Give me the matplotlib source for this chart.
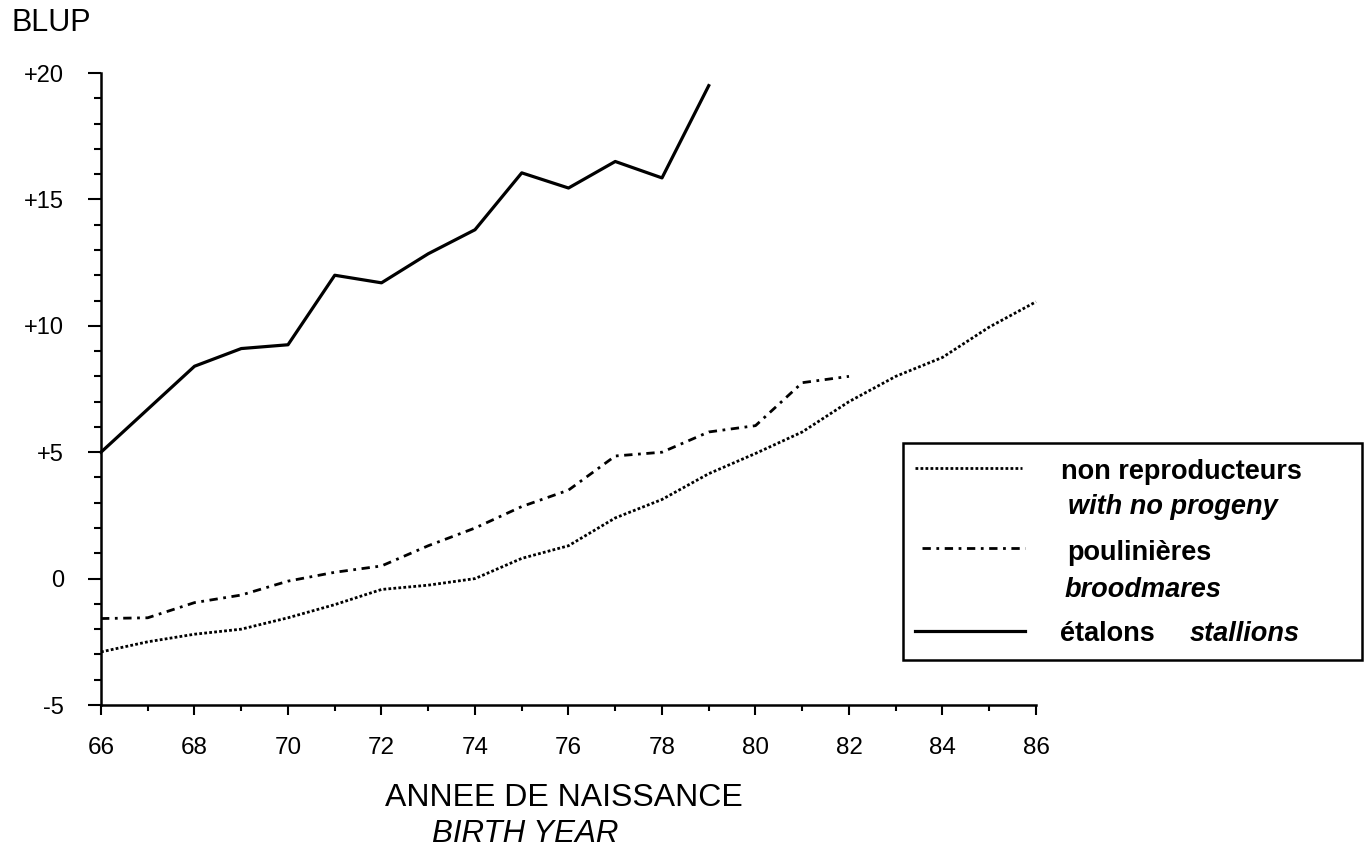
import matplotlib
matplotlib.use("Agg")
import matplotlib.pyplot as plt
from matplotlib.lines import Line2D
from matplotlib.patches import Rectangle
from matplotlib.ticker import MultipleLocator

plt.rcParams['font.family'] = ['Liberation Sans', 'DejaVu Sans']

# values (BLUP by birth year)
years_stallions = list(range(66, 80))
stallions = [5.0, 6.7, 8.4, 9.1, 9.25, 12.0, 11.7, 12.85, 13.8, 16.05, 15.45, 16.5, 15.85, 19.5]

years_mares = list(range(66, 83))
broodmares = [-1.58, -1.55, -0.95, -0.65, -0.1, 0.25, 0.5, 1.3, 2.0, 2.85, 3.5,
              4.85, 5.0, 5.8, 6.05, 7.75, 8.0]

years_nonrep = list(range(66, 87))
non_rep = [-2.9, -2.5, -2.2, -2.0, -1.55, -1.03, -0.43, -0.26, 0.0, 0.8, 1.3,
           2.4, 3.13, 4.15, 4.95, 5.8, 7.0, 8.0, 8.75, 9.95, 10.95]

x_ticks = list(range(66, 87, 2))
x_ticklabels = [str(v) for v in x_ticks]
y_ticks = [-5, 0, 5, 10, 15, 20]
y_ticklabels = ['-5', '0', '+5', '+10', '+15', '+20']

W, H = 1372, 857
fig = plt.figure(figsize=(W / 100, H / 100), dpi=100)
ax = fig.add_axes([101 / W, 1 - 705 / H, (1036 - 101) / W, (705 - 73) / H])

def px(x, y):
    # pixel position -> figure fraction
    return x / W, 1 - y / H

dotted = (0, (1, 0.8))
dashdot = (0, (3, 2, 1, 2))

ax.plot(years_nonrep, non_rep, color='black', lw=2.0, linestyle=dotted, clip_on=False)
ax.plot(years_mares, broodmares, color='black', lw=2.0, linestyle=dashdot, clip_on=False)
ax.plot(years_stallions, stallions, color='black', lw=2.3, clip_on=False)

ax.set_xlim(66, 86)
ax.set_ylim(-5, 20)
for s in ['top', 'right']:
    ax.spines[s].set_visible(False)
for s in ['left', 'bottom']:
    ax.spines[s].set_linewidth(1.8)

ax.set_xticks(x_ticks)
ax.set_xticklabels(x_ticklabels)
ax.set_yticks(y_ticks)
ax.set_yticklabels(y_ticklabels)
ax.xaxis.set_minor_locator(MultipleLocator(1))
ax.yaxis.set_minor_locator(MultipleLocator(1))
ax.tick_params(axis='x', which='major', length=7, width=1.5, pad=16, labelsize=17.5)
ax.tick_params(axis='x', which='minor', length=4, width=1.5)
ax.tick_params(axis='y', which='major', length=9.5, width=1.5, pad=17, labelsize=17)
ax.tick_params(axis='y', which='minor', length=5, width=1.5)

fig.text(*px(12, 23), 'BLUP', fontsize=22, ha='left', va='center')
fig.text(*px(564, 798), 'ANNEE DE NAISSANCE', fontsize=23, ha='center', va='center')
fig.text(*px(525, 834), 'BIRTH YEAR', fontsize=22.5, style='italic', ha='center', va='center')

# legend box drawn by hand (mixed upright / italic labels)
x0, y0 = px(903, 660)
x1, y1 = px(1362, 443)
fig.patches.append(Rectangle((x0, y0), x1 - x0, y1 - y0, transform=fig.transFigure,
                             fill=False, edgecolor='black', lw=1.8))
for (xa, xb, yy, ls, lw) in [(915, 1022, 468, dotted, 2.0),
                             (922, 1025, 548, dashdot, 2.0),
                             (915, 1025, 631, '-', 2.3)]:
    (xa_f, y_f), (xb_f, _) = px(xa, yy), px(xb, yy)
    fig.add_artist(Line2D([xa_f, xb_f], [y_f, y_f], transform=fig.transFigure,
                          color='black', lw=lw, linestyle=ls))

fs = 19.5
lab = dict(fontsize=fs, fontweight='bold', va='center')
fig.text(*px(1061, 472), 'non reproducteurs', **lab)
fig.text(*px(1068, 507), 'with no progeny', style='italic', **lab)
fig.text(*px(1067, 553), 'poulinières', **lab)
fig.text(*px(1065, 590), 'broodmares', style='italic', **lab)
fig.text(*px(1060, 634), 'étalons', **lab)
fig.text(*px(1190, 634), 'stallions', style='italic', **lab)

fig.savefig('out.png', dpi=100)
